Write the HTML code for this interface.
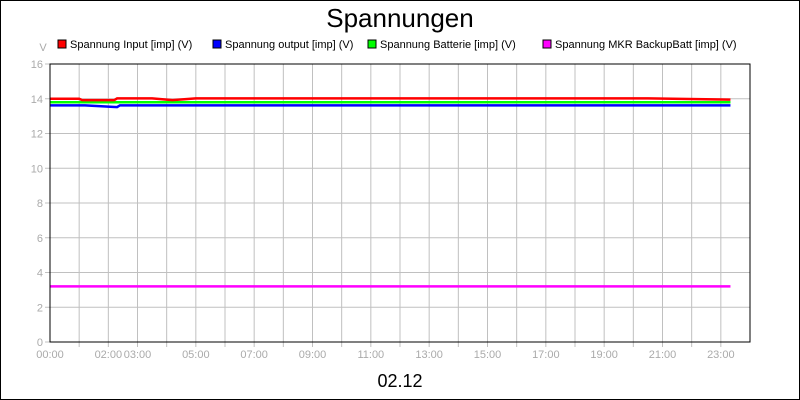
<!DOCTYPE html>
<html><head><meta charset="utf-8"><style>
body{margin:0;background:#fff}
svg{display:block;font-family:"Liberation Sans",sans-serif}
</style></head><body>
<svg id="c" width="800" height="400" viewBox="0 0 800 400">
<rect x="0.5" y="0.5" width="799" height="399" fill="#fff" stroke="#000"/>
<text x="400" y="27" font-size="26" text-anchor="middle">Spannungen</text>
<text x="400" y="387" font-size="18" text-anchor="middle">02.12</text>
<text x="43" y="51" font-size="11" fill="#aaa" text-anchor="middle">V</text>
<g id="grid"></g><g id="series"></g><g id="axes"></g><g id="legend"></g>
</svg>
<script>
const yTicks=[0,2,4,6,8,10,12,14,16];
const xLabelHours=[0,2,3,5,7,9,11,13,15,17,19,21,23];
const xLabelText=["00:00","02:00","03:00","05:00","07:00","09:00","11:00","13:00","15:00","17:00","19:00","21:00","23:00"];
const seriesNames=["Spannung Input [imp] (V)","Spannung output [imp] (V)","Spannung Batterie [imp] (V)","Spannung MKR BackupBatt [imp] (V)"];
const seriesColors=["#ff0000","#0000ff","#00ff00","#ff00ff"];
const inputHours=[0,1,1.1,2.2,2.3,3.5,4.2,5,20.5,23.33];
const inputVals=[14.0,14.0,13.92,13.92,14.02,14.02,13.92,14.02,14.02,13.95];
const outputHours=[0,1.2,2.3,2.4,23.33];
const outputVals=[13.62,13.62,13.52,13.62,13.62];
const battHours=[0,23.33];
const battVals=[13.8,13.8];
const mkrHours=[0,23.33];
const mkrVals=[3.2,3.2];
const NS="http://www.w3.org/2000/svg";
const X0=50,X1=750,Y0=342,Y1=64;
const xs=h=>X0+h*(X1-X0)/24, ys=v=>Y0-v*(Y0-Y1)/16;
function mk(t,a,p){const e=document.createElementNS(NS,t);for(const k in a)e.setAttribute(k,a[k]);p.appendChild(e);return e;}
const grid=document.getElementById('grid'),axes=document.getElementById('axes'),ser=document.getElementById('series'),leg=document.getElementById('legend');
for(let h=1;h<24;h++){const l=mk('line',{x1:xs(h),x2:xs(h),y1:Y1,y2:Y0+5,stroke:'#c0c0c0'},grid);

}
yTicks.forEach(v=>{if(v>0&&v<16){const l=mk('line',{x1:X0,x2:X1,y1:ys(v),y2:ys(v),stroke:'#c0c0c0'},grid);

}
mk('line',{x1:X0-5,x2:X0,y1:ys(v),y2:ys(v),stroke:'#c0c0c0'},axes);
const t=mk('text',{x:X0-7,y:ys(v)+4,'font-size':11,fill:'#aaa','text-anchor':'end'},axes);t.textContent=v;

});
xLabelHours.forEach((h,i)=>{const t=mk('text',{x:xs(h),y:Y0+16,'font-size':11,fill:'#aaa','text-anchor':'middle'},axes);t.textContent=xLabelText[i];

});
const fr=mk('rect',{x:X0,y:Y1,width:X1-X0,height:Y0-Y1,fill:'none',stroke:'#000'},axes);


const data=[[inputHours,inputVals],[outputHours,outputVals],[battHours,battVals],[mkrHours,mkrVals]];
[2,1,0,3].forEach(i=>{const [hh,vv]=data[i];const p=mk('polyline',{points:hh.map((h,j)=>xs(h)+','+ys(vv[j])).join(' '),fill:'none',stroke:seriesColors[i],'stroke-width':2.5},ser);

});
const lx=[58,213,368,543];
seriesNames.forEach((n,i)=>{const g=mk('g',{},leg);


mk('rect',{x:lx[i],y:40,width:8,height:8,fill:seriesColors[i],stroke:'#000'},g);
const t=mk('text',{x:lx[i]+12,y:48,'font-size':11,textLength:0},g);t.removeAttribute('textLength');t.textContent=n;});
</script>
</body></html>
